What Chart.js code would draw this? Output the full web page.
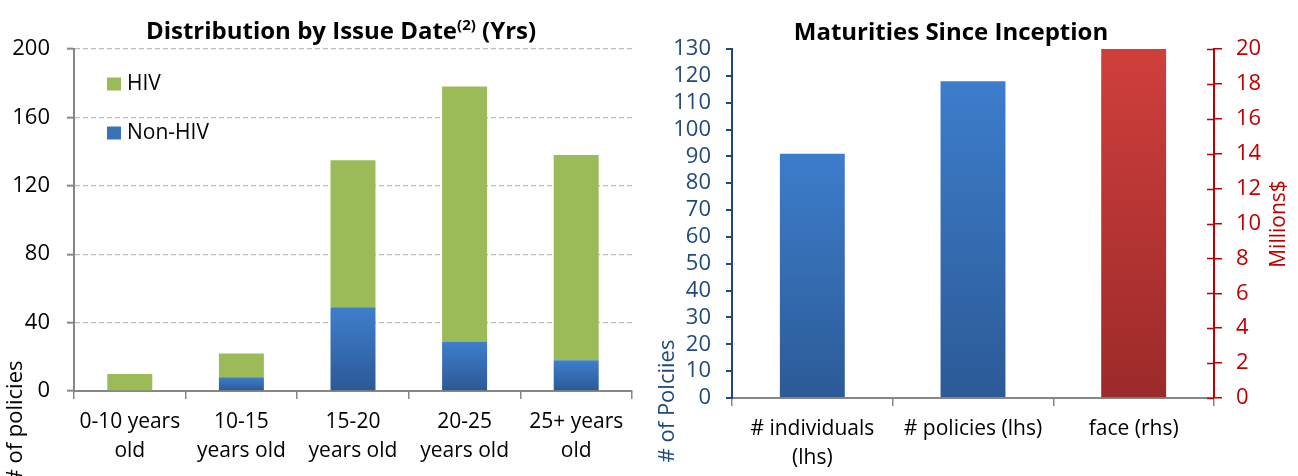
<!DOCTYPE html>
<html>
<head>
<meta charset="utf-8">
<script src="https://cdn.jsdelivr.net/npm/chart.js@4.4.0/dist/chart.umd.min.js"></script>
<style>
  html, body { margin: 0; padding: 0; background: #fff; }
  #wrap { position: relative; width: 1298px; height: 476px; overflow: hidden; }
  .box { position: absolute; top: 0; height: 476px; }
</style>
</head>
<body>
<div id="wrap">
  <div class="box" style="left:0;width:650px"><canvas id="issueChart"></canvas></div>
  <div class="box" style="left:650px;width:648px"><canvas id="maturityChart"></canvas></div>
</div>
<script>
// left chart: policies by issue date
const issueCategories = [['0-10 years', 'old'], ['10-15', 'years old'], ['15-20', 'years old'], ['20-25', 'years old'], ['25+ years', 'old']];
const nonHivPolicies = [0, 8, 49, 29, 18];
const hivPolicies = [10, 14, 86, 149, 120];
const issueTicks = [0, 40, 80, 120, 160, 200];

// right chart: maturities since inception
const maturityCategories = [['# individuals', '(lhs)'], '# policies (lhs)', 'face (rhs)'];
const maturityCounts = [91, 118, null];
const maturityFace = [null, null, 20];
const countTicks = [0, 10, 20, 30, 40, 50, 60, 70, 80, 90, 100, 110, 120, 130];
const faceTicks = [0, 2, 4, 6, 8, 10, 12, 14, 16, 18, 20];

const FONT = '"Open Sans", "Noto Sans", sans-serif';
const GREY = '#868686';
const NAVY = '#1F497D';
const RED = '#C00000';

// vertical gradient per bar, from its own top down to zero
function barGradient(topColor, bottomColor) {
  return (ctx) => {
    const chart = ctx.chart;
    if (ctx.type !== 'data' || !chart.chartArea || ctx.raw == null) return bottomColor;
    const scale = chart.scales[chart.getDatasetMeta(ctx.datasetIndex).yAxisID];
    const y0 = scale.getPixelForValue(ctx.raw);
    const y1 = scale.getPixelForValue(0);
    if (!isFinite(y0) || !isFinite(y1) || y1 - y0 < 1) return bottomColor;
    const g = chart.ctx.createLinearGradient(0, y0, 0, y1);
    g.addColorStop(0, topColor);
    g.addColorStop(1, bottomColor);
    return g;
  };
}

// titles, rotated axis titles, legend, crossing ticks
const overlay = {
  id: 'overlay',
  afterDraw(chart, args, opts) {
    const c = chart.ctx;
    c.save();
    if (opts.title) {
      const t = opts.title;
      let w = 0;
      t.parts.forEach(p => { c.font = `bold ${p.size}px ${FONT}`; p.w = c.measureText(p.text).width; w += p.w; });
      let x = t.x - w / 2;
      c.fillStyle = '#000';
      c.textBaseline = 'alphabetic';
      c.textAlign = 'left';
      t.parts.forEach(p => {
        c.font = `bold ${p.size}px ${FONT}`;
        c.fillText(p.text, x, t.y - (p.rise || 0));
        x += p.w;
      });
    }
    (opts.axisTitles || []).forEach(a => {
      c.save();
      c.translate(a.x, a.y);
      c.rotate(-Math.PI / 2);
      c.font = `${a.size}px ${FONT}`;
      c.fillStyle = a.color;
      c.textAlign = 'center';
      c.textBaseline = 'middle';
      c.fillText(a.text, 0, 0);
      c.restore();
    });
    if (opts.legend) {
      const L = opts.legend;
      const sets = chart.data.datasets.slice().reverse();
      sets.forEach((ds, i) => {
        const y = L.y + i * L.gap;
        c.fillStyle = ds.legendColor;
        c.fillRect(L.x, y - 6.5, 14, 13);
        c.fillStyle = '#000';
        c.font = `21px ${FONT}`;
        c.textAlign = 'left';
        c.textBaseline = 'middle';
        c.fillText(ds.label, L.x + 20, y);
      });
    }
    if (opts.crossTicks) {
      const s = chart.scales[opts.crossTicks];
      c.strokeStyle = RED;
      c.lineWidth = 1.5;
      s.ticks.forEach(tk => {
        const y = Math.round(s.getPixelForValue(tk.value)) + 0.5;
        c.beginPath();
        c.moveTo(s.left - 7, y);
        c.lineTo(s.left, y);
        c.stroke();
      });
    }
    c.restore();
  }
};

new Chart(document.getElementById('issueChart'), {
  type: 'bar',
  plugins: [overlay],
  data: {
    labels: issueCategories,
    datasets: [
      {
        label: 'Non-HIV',
        data: nonHivPolicies,
        backgroundColor: barGradient('#3E7ECD', '#2C5995'),
        legendColor: '#3A72BA'
      },
      {
        label: 'HIV',
        data: hivPolicies,
        backgroundColor: '#9BBB59',
        legendColor: '#9BBB59'
      }
    ]
  },
  options: {
    responsive: true,
    maintainAspectRatio: false,
    animation: false,
    layout: { padding: { top: 49, right: 18, left: 0, bottom: 0 } },
    datasets: { bar: { categoryPercentage: 1, barPercentage: 0.403, borderWidth: 0 } },
    scales: {
      x: {
        stacked: true,
        grid: { offset: true, drawOnChartArea: false, tickLength: 8, color: GREY, lineWidth: 1.5 },
        border: { color: GREY, width: 2 },
        ticks: { color: '#000', font: { family: FONT, size: 21, lineHeight: 1.35 }, padding: 9, maxRotation: 0, autoSkip: false },
        afterFit: (s) => { s.height = 85; }
      },
      y: {
        stacked: true,
        min: 0,
        max: 200,
        afterBuildTicks: (s) => { s.ticks = issueTicks.map(v => ({ value: v })); },
        grid: { color: '#BDBDBD', lineWidth: 1.3, tickColor: GREY, tickLength: 7, tickWidth: 2, tickBorderDash: [] },
        border: { color: GREY, width: 2, dash: [5, 3] },
        ticks: { color: '#000', font: { family: FONT, size: 22 }, padding: 17, autoSkip: false },
        afterFit: (s) => { s.width = 74; }
      }
    },
    plugins: {
      legend: { display: false },
      title: { display: false },
      tooltip: { enabled: false },
      overlay: {
        title: {
          x: 341, y: 39,
          parts: [
            { text: 'Distribution by Issue Date', size: 24 },
            { text: '(2)', size: 15, rise: 9 },
            { text: ' (Yrs)', size: 24 }
          ]
        },
        axisTitles: [{ text: '# of policies', x: 16, y: 422, size: 22, color: '#000' }],
        legend: { x: 107, y: 84, gap: 49 }
      }
    }
  }
});

new Chart(document.getElementById('maturityChart'), {
  type: 'bar',
  plugins: [overlay],
  data: {
    labels: maturityCategories,
    datasets: [
      {
        label: '# of Polciies',
        data: maturityCounts,
        yAxisID: 'y',
        backgroundColor: barGradient('#3D7DCC', '#2C5A96')
      },
      {
        label: 'Millions$',
        data: maturityFace,
        yAxisID: 'y2',
        backgroundColor: barGradient('#CF3F3C', '#9C2A2A')
      }
    ]
  },
  options: {
    responsive: true,
    maintainAspectRatio: false,
    animation: false,
    layout: { padding: { top: 49, left: 0, right: 0, bottom: 0 } },
    datasets: { bar: { grouped: false, categoryPercentage: 1, barPercentage: 0.404, borderWidth: 0 } },
    scales: {
      x: {
        grid: { offset: true, drawOnChartArea: false, tickLength: 8, color: GREY, lineWidth: 1.5 },
        border: { color: GREY, width: 2 },
        ticks: { color: '#000', font: { family: FONT, size: 21, lineHeight: 1.35 }, padding: 9, maxRotation: 0, autoSkip: false },
        afterFit: (s) => { s.height = 78; }
      },
      y: {
        position: 'left',
        min: 0,
        max: 130,
        afterBuildTicks: (s) => { s.ticks = countTicks.map(v => ({ value: v })); },
        grid: { drawOnChartArea: false, color: NAVY, tickLength: 6, lineWidth: 2 },
        border: { color: NAVY, width: 2 },
        ticks: { color: NAVY, font: { family: FONT, size: 22 }, padding: 15, autoSkip: false },
        afterFit: (s) => { s.width = 82; }
      },
      y2: {
        position: 'right',
        min: 0,
        max: 20,
        afterBuildTicks: (s) => { s.ticks = faceTicks.map(v => ({ value: v })); },
        grid: { drawOnChartArea: false, color: RED, tickLength: 8, lineWidth: 1.5 },
        border: { color: RED, width: 2 },
        ticks: { color: RED, font: { family: FONT, size: 22 }, padding: 14, autoSkip: false },
        afterFit: (s) => { s.width = 84; }
      }
    },
    plugins: {
      legend: { display: false },
      title: { display: false },
      tooltip: { enabled: false },
      overlay: {
        title: { x: 301, y: 40, parts: [{ text: 'Maturities Since Inception', size: 24 }] },
        axisTitles: [
          { text: '# of Polciies', x: 18, y: 401, size: 22, color: NAVY },
          { text: 'Millions$', x: 629, y: 224, size: 21, color: RED }
        ],
        crossTicks: 'y2'
      }
    }
  }
});
</script>
</body>
</html>
